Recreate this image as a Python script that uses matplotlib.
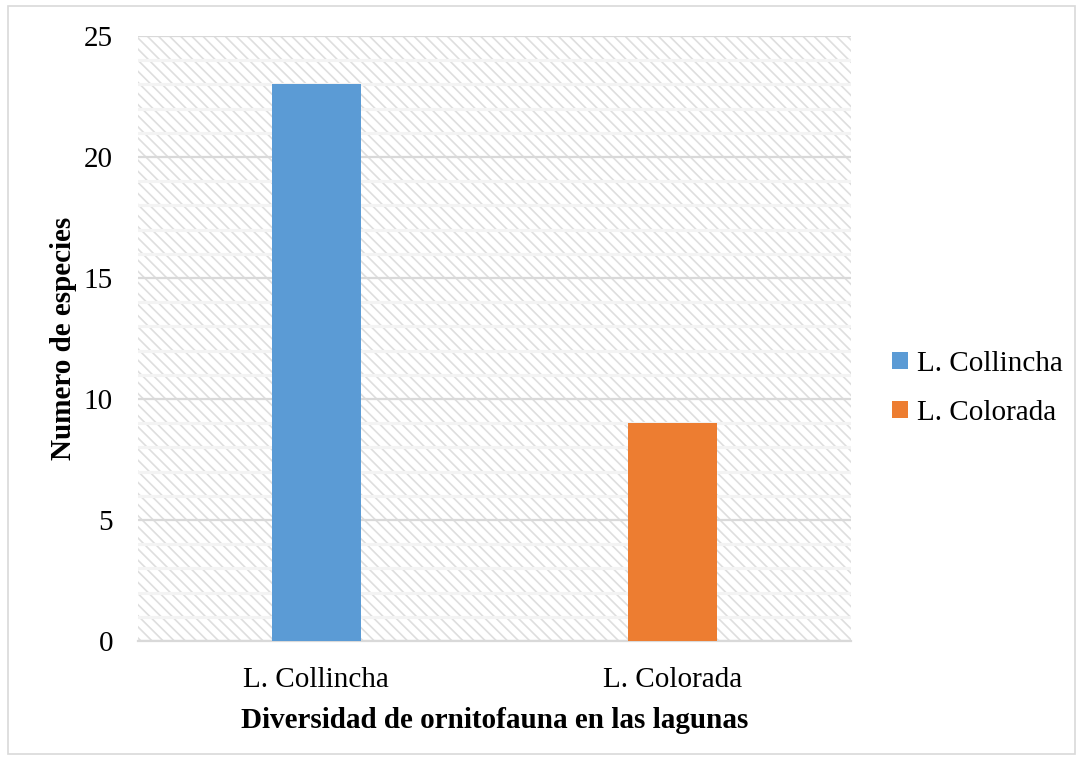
import matplotlib
matplotlib.use("Agg")
import matplotlib.pyplot as plt
from matplotlib.patches import Rectangle, Patch
from matplotlib.ticker import MultipleLocator

categories = ["L. Collincha", "L. Colorada"]
species_counts = [23, 9]
bar_colors = ["#5B9BD5", "#ED7D31"]

plt.rcParams["font.family"] = ["Liberation Serif", "DejaVu Serif"]
plt.rcParams["hatch.linewidth"] = 1.2

fig = plt.figure(figsize=(10.81, 7.6), dpi=100)
ax = fig.add_axes([138 / 1081, 1 - 641 / 760, (851 - 138) / 1081, (641 - 36) / 760])

# hatched plot-area background
ax.add_patch(Rectangle((0, 0), 1, 1, transform=ax.transAxes, fill=False,
                       hatch="\\\\\\", edgecolor="#dedede", linewidth=0, zorder=0))

x = list(range(len(categories)))
ax.bar(x, species_counts, width=0.25, color=bar_colors, zorder=3)

ax.set_xlim(-0.5, len(categories) - 0.5)
ax.set_ylim(0, 25)
ax.yaxis.set_major_locator(MultipleLocator(5))
ax.yaxis.set_minor_locator(MultipleLocator(1))
ax.grid(axis="y", which="minor", color="#f3f3f3", linewidth=2.2, zorder=1)
ax.grid(axis="y", which="major", color="#d9d9d9", linewidth=1.6, zorder=2)
ax.set_axisbelow(True)

for s in ["left", "right", "top"]:
    ax.spines[s].set_visible(False)
ax.spines["bottom"].set_color("#d9d9d9")
ax.spines["bottom"].set_linewidth(1.6)

ax.set_xticks(x)
ax.set_xticklabels(categories)
ax.tick_params(axis="both", which="both", length=0, labelsize=21)
ax.tick_params(axis="y", pad=18)
ax.tick_params(axis="x", pad=19)

ax.set_ylabel("Numero de especies", fontsize=21, fontweight="bold", labelpad=5)
ax.set_xlabel("Diversidad de ornitofauna en las lagunas", fontsize=21,
              fontweight="bold", labelpad=10)

handles = [Patch(facecolor=c, edgecolor="none") for c in bar_colors]
fig.legend(handles, categories, loc="center left", bbox_to_anchor=(0.801, 0.489),
           frameon=False, fontsize=21, handlelength=0.55, handleheight=0.55,
           handletextpad=0.3, labelspacing=0.8)

fig.add_artist(Rectangle((0.007, 0.008), 0.987, 0.984, transform=fig.transFigure,
                         fill=False, edgecolor="#d9d9d9", linewidth=1.2))

fig.savefig("out.png", dpi=100)
